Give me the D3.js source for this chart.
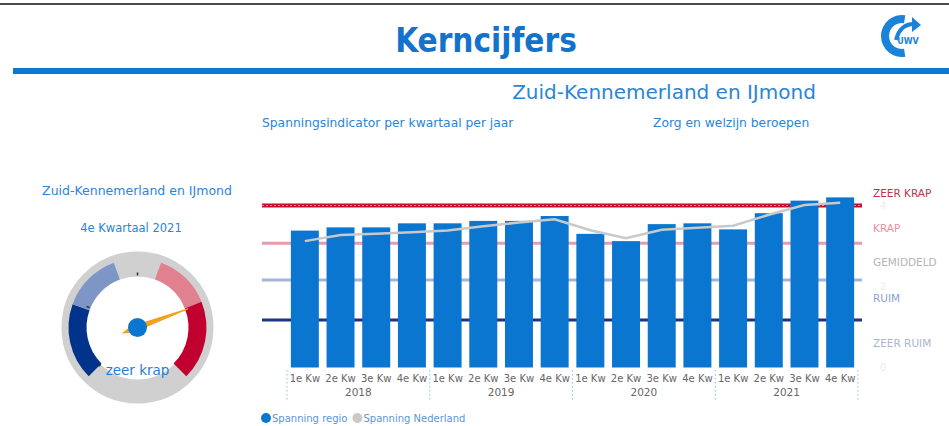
<!DOCTYPE html>
<html>
<head>
<meta charset="UTF-8">
<title>Kerncijfers</title>
<script src="https://d3js.org/d3.v7.min.js"></script>
<style>
body { margin: 0; background: #fff; }
svg text { font-family: "DejaVu Sans", Verdana, sans-serif; }
</style>
</head>
<body>
<svg width="949" height="426"></svg>
<script>
// chart data
var quarters = ["1e Kw", "2e Kw", "3e Kw", "4e Kw"];
var years = ["2018", "2019", "2020", "2021"];
var spanningRegio = [3.38, 3.46, 3.46, 3.56, 3.56, 3.62, 3.62, 3.74, 3.30, 3.12, 3.54, 3.56, 3.41, 3.81, 4.12, 4.20];
var spanningNederland = [3.12, 3.27, 3.30, 3.34, 3.38, 3.49, 3.58, 3.66, 3.39, 3.19, 3.40, 3.45, 3.50, 3.77, 4.01, 4.07];
var refLevels = [4, 3.07, 2.16, 1.17];
var levelLabels = ["ZEER KRAP", "KRAP", "GEMIDDELD", "RUIM", "ZEER RUIM"];
var levelLabelPos = [4.32, 3.45, 2.6, 1.72, 0.6];
var yTicks = [0, 2, 4];
// gauge
var gaugeBands = [0, 1.2, 2.13, 2.87, 3.76, 5];
var gaugeTicks = [0, 1.25, 2.5];
var gaugeValue = 3.79;
var gaugeLabel = "zeer krap";

var svg = d3.select("svg");
var blue = "#0a76d0";

// header
svg.append("line").attr("x1", 0).attr("x2", 949).attr("y1", 4).attr("y2", 4)
  .attr("stroke", "#111").attr("stroke-width", 1.5);
svg.append("text").attr("x", 486).attr("y", 52).attr("text-anchor", "middle")
  .style("font-family", "'DejaVu Sans Condensed', 'DejaVu Sans', sans-serif")
  .style("font-weight", "bold").style("font-size", "33px").attr("fill", "#1372cc")
  .text("Kerncijfers");
svg.append("rect").attr("x", 13).attr("y", 68).attr("width", 936).attr("height", 6).attr("fill", "#0a78d4");

// logo (rough)
var logo = svg.append("g").attr("transform", "translate(902,36)");
logo.append("path")
  .attr("d", d3.arc().innerRadius(13).outerRadius(21).startAngle(Math.PI * 0.95).endAngle(Math.PI * 2.05))
  .attr("fill", "#1a82d8");
logo.append("path").attr("d", "M-6,4 Q-2,-12 12,-12").attr("fill", "none")
  .attr("stroke", "#1a82d8").attr("stroke-width", 4);
logo.append("path").attr("d", "M10,-19 L19,-11 L10,-4 Z").attr("fill", "#1a82d8");
logo.append("text").attr("x", 6).attr("y", 8).attr("text-anchor", "middle")
  .style("font-size", "8px").style("font-weight", "bold").attr("fill", "#1a82d8").text("UWV");

// subtitles
svg.append("text").attr("x", 664).attr("y", 99).attr("text-anchor", "middle")
  .style("font-size", "20px").attr("fill", "#2a85d8").text("Zuid-Kennemerland en IJmond");
svg.append("text").attr("x", 262).attr("y", 127)
  .style("font-size", "12.3px").attr("fill", "#2a85d8").text("Spanningsindicator per kwartaal per jaar");
svg.append("text").attr("x", 653).attr("y", 127)
  .style("font-size", "12.3px").attr("fill", "#2a85d8").text("Zorg en welzijn beroepen");

// bar chart
var keys = [];
years.forEach(function (y) { quarters.forEach(function (q) { keys.push(y + "|" + q); }); });

var x = d3.scaleBand().domain(keys).range([287, 858]).paddingInner(0.216).paddingOuter(0.108);
var y = d3.scaleLinear().domain([0, 4]).range([367.5, 205.5]);

var refColors = ["#c8102e", "#e99aab", "#a5b4d8", "#1c3582"];
svg.selectAll(".ref").data(refLevels).enter().append("line")
  .attr("class", "ref")
  .attr("x1", 262).attr("x2", 862)
  .attr("y1", function (d) { return y(d); }).attr("y2", function (d) { return y(d); })
  .attr("stroke", function (d, i) { return refColors[i]; })
  .attr("stroke-width", function (d, i) { return i == 0 ? 4 : 3; });
svg.append("line").attr("x1", 262).attr("x2", 862).attr("y1", y(refLevels[0])).attr("y2", y(refLevels[0]))
  .attr("stroke", "#ee7d96").attr("stroke-width", 1).attr("stroke-dasharray", "2,2");

svg.selectAll(".bar").data(spanningRegio).enter().append("rect")
  .attr("class", "bar")
  .attr("x", function (d, i) { return x(keys[i]); })
  .attr("width", x.bandwidth())
  .attr("y", function (d) { return y(d); })
  .attr("height", function (d) { return y(0) - y(d); })
  .attr("fill", blue);

var line = d3.line()
  .x(function (d, i) { return x(keys[i]) + x.bandwidth() / 2; })
  .y(function (d) { return y(d); });
svg.append("path").datum(spanningNederland).attr("d", line)
  .attr("fill", "none").attr("stroke", "#c9c9c9").attr("stroke-width", 2.5);

// right labels
var labelColors = ["#c3304f", "#f08ca2", "#b4b4b4", "#8c9fd2", "#a9b5cf"];
svg.selectAll(".lvl").data(levelLabels).enter().append("text")
  .attr("x", 873).attr("y", function (d, i) { return y(levelLabelPos[i]) + 4; })
  .style("font-size", "10.5px").attr("fill", function (d, i) { return labelColors[i]; })
  .text(function (d) { return d; });
svg.selectAll(".ytick").data(yTicks).enter().append("text")
  .attr("x", 880).attr("y", function (d) { return y(d) + 3; })
  .style("font-size", "10px").attr("fill", "#ececec")
  .text(function (d) { return d; });

// x axis labels
svg.selectAll(".qlab").data(keys).enter().append("text")
  .attr("x", function (d) { return x(d) + x.bandwidth() / 2; })
  .attr("y", 382).attr("text-anchor", "middle")
  .style("font-size", "10px").attr("fill", "#666")
  .text(function (d) { return d.split("|")[1]; });
svg.selectAll(".ylab").data(years).enter().append("text")
  .attr("x", function (d) { return (x(d + "|" + quarters[0]) + x(d + "|" + quarters[3]) + x.bandwidth()) / 2; })
  .attr("y", 396).attr("text-anchor", "middle")
  .style("font-size", "10.5px").attr("fill", "#666")
  .text(function (d) { return d; });
var seps = years.map(function (d) { return x(d + "|" + quarters[0]) - x.step() * 0.108; });
seps.push(858);
svg.selectAll(".sep").data(seps).enter().append("line")
  .attr("x1", function (d) { return d; }).attr("x2", function (d) { return d; })
  .attr("y1", 370).attr("y2", 400)
  .attr("stroke", "#8fbde6").attr("stroke-width", 1).attr("stroke-dasharray", "1.5,2.5");

// legend
var legend = [["Spanning regio", blue], ["Spanning Nederland", "#c9c9c9"]];
var lx = 266;
legend.forEach(function (l) {
  svg.append("circle").attr("cx", lx).attr("cy", 418).attr("r", 5).attr("fill", l[1]);
  var t = svg.append("text").attr("x", lx + 6).attr("y", 421.5)
    .style("font-size", "10px").attr("fill", "#5a96d6").text(l[0]);
  lx += 6 + t.node().getComputedTextLength() + 10;
});

// gauge
svg.append("text").attr("x", 137).attr("y", 195).attr("text-anchor", "middle")
  .style("font-size", "12.5px").attr("fill", "#2a85d8").text("Zuid-Kennemerland en IJmond");
svg.append("text").attr("x", 131).attr("y", 232).attr("text-anchor", "middle")
  .style("font-size", "11.5px").attr("fill", "#2a85d8").text("4e Kwartaal 2021");

var gx = 137.5, gy = 327.5;
var g = svg.append("g").attr("transform", "translate(" + gx + "," + gy + ")");
var ang = d3.scaleLinear().domain([0, 5]).range([-135, 135]);
var rad = function (v) { return ang(v) * Math.PI / 180; };

g.append("circle").attr("r", 64).attr("fill", "none").attr("stroke", "#d0d0d0").attr("stroke-width", 24);
var bandColors = ["#02338a", "#7d96c6", "#d0d0d0", "#e1808f", "#c10030"];
var bandArc = d3.arc().innerRadius(51).outerRadius(69);
g.selectAll(".band").data(d3.range(gaugeBands.length - 1)).enter().append("path")
  .attr("d", function (i) { return bandArc({ startAngle: rad(gaugeBands[i]), endAngle: rad(gaugeBands[i + 1]) }); })
  .attr("fill", function (i) { return bandColors[i]; });
g.selectAll(".gtick").data(gaugeTicks).enter().append("line")
  .attr("x1", function (d) { return 52 * Math.sin(rad(d)); })
  .attr("y1", function (d) { return -52 * Math.cos(rad(d)); })
  .attr("x2", function (d) { return 55 * Math.sin(rad(d)); })
  .attr("y2", function (d) { return -55 * Math.cos(rad(d)); })
  .attr("stroke", "#333").attr("stroke-width", 1.5);

g.append("text").attr("x", 0).attr("y", 47).attr("text-anchor", "middle")
  .style("font-size", "13.5px").attr("fill", "#1f7fd6").text(gaugeLabel);

var na = ang(gaugeValue);
g.append("path").attr("d", "M-17,0 L-6,-3.5 L54,-0.5 L54,0.5 L-6,3.5 Z")
  .attr("transform", "rotate(" + (na - 90) + ")")
  .attr("fill", "#f3a01c");
g.append("circle").attr("r", 9.5).attr("fill", blue);
</script>
</body>
</html>
